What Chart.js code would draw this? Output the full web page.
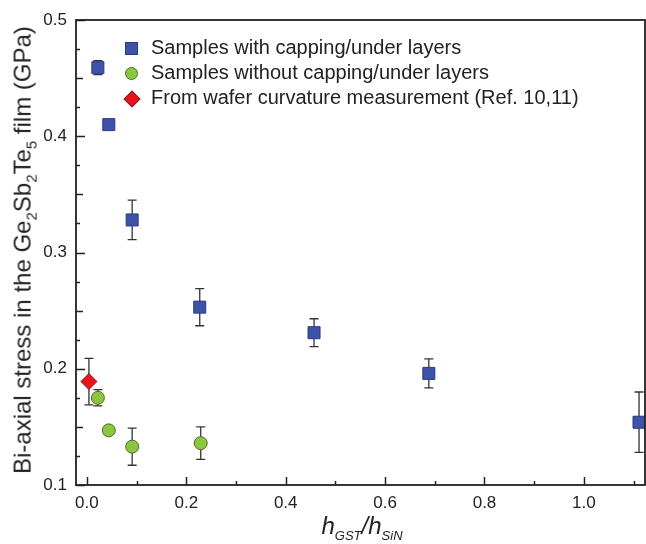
<!DOCTYPE html>
<html>
<head>
<meta charset="utf-8">
<script src="https://cdn.jsdelivr.net/npm/chart.js@4.4.0/dist/chart.umd.min.js"></script>
<style>
  body { margin: 0; background: #fff; }
  #wrap { position: relative; width: 646px; height: 544px; font-family: "Liberation Sans", Arial, sans-serif; color: #222; }
  #ytitle { position: absolute; left: 24px; top: 250px; transform: translate(-50%, -50%) rotate(-90deg); white-space: nowrap; font-size: 24px; }
  #ytitle sub { font-size: 15px; }
  #xtitle { position: absolute; left: 362px; top: 512px; transform: translateX(-50%); white-space: nowrap; font-size: 24px; font-style: italic; }
  #xtitle sub { font-size: 13px; }
  #legend { position: absolute; left: 123px; top: 35px; font-size: 20px; }
  .row { height: 25px; display: flex; align-items: center; }
  .mk { width: 16px; height: 16px; position: relative; margin-right: 12px; }
  .sq { position: absolute; left: 2px; top: 2px; width: 11px; height: 11px; background: #3d52a8; border: 1px solid #2b3b80; }
  .ci { position: absolute; left: 2px; top: 2px; width: 11px; height: 11px; border-radius: 50%; background: #8cc63f; border: 1px solid #4f6b2a; }
  .di { position: absolute; left: 3px; top: 3px; width: 10px; height: 10px; background: #e8141c; border: 1px solid #8a1a1a; transform: rotate(45deg); }
</style>
</head>
<body>
<div id="wrap">
  <canvas id="chart" width="646" height="544"></canvas>
  <div id="ytitle">Bi-axial stress in the Ge<sub>2</sub>Sb<sub>2</sub>Te<sub>5</sub> film (GPa)</div>
  <div id="xtitle">h<sub>GST</sub>/h<sub>SiN</sub></div>
  <div id="legend">
    <div class="row"><div class="mk"><div class="sq"></div></div>Samples with capping/under layers</div>
    <div class="row"><div class="mk"><div class="ci"></div></div>Samples without capping/under layers</div>
    <div class="row"><div class="mk"><div class="di"></div></div>From wafer curvature measurement (Ref. 10,11)</div>
  </div>
</div>
<script>
// samples with capping/under layers
const cappedX = [0.022, 0.044, 0.091, 0.227, 0.457, 0.688, 1.111];
const cappedY = [0.459, 0.410, 0.328, 0.253, 0.231, 0.196, 0.154];
const cappedErr = [0.006, 0.003, 0.017, 0.016, 0.012, 0.0125, 0.026];

// samples without capping/under layers
const bareX = [0.022, 0.044, 0.091, 0.229];
const bareY = [0.175, 0.147, 0.133, 0.136];
const bareErr = [0.007, 0.003, 0.016, 0.014];

// wafer curvature
const waferX = [0.004];
const waferY = [0.189];
const waferErr = [0.02];

const xTicks = [0, 0.1, 0.2, 0.3, 0.4, 0.5, 0.6, 0.7, 0.8, 0.9, 1.0, 1.1];
const xLabels = ['0.0', '', '0.2', '', '0.4', '', '0.6', '', '0.8', '', '1.0', ''];
const yTicks = [0.1, 0.125, 0.15, 0.175, 0.2, 0.225, 0.25, 0.275, 0.3, 0.325, 0.35, 0.375, 0.4, 0.425, 0.45, 0.475, 0.5];
const yLabels = ['0.1', '', '', '', '0.2', '', '', '', '0.3', '', '', '', '0.4', '', '', '', '0.5'];

function pts(xs, ys) {
  return xs.map((x, i) => ({ x: x, y: ys[i] }));
}

const frame = {
  id: 'frame',
  beforeDatasetsDraw(chart) {
    const ctx = chart.ctx;
    const xs = chart.scales.x, ys = chart.scales.y;
    ctx.save();
    ctx.strokeStyle = '#333';
    ctx.lineWidth = 1.3;
    chart.data.datasets.forEach(ds => {
      ds.data.forEach((p, i) => {
        const e = ds.errors[i];
        const px = xs.getPixelForValue(p.x);
        const top = ys.getPixelForValue(p.y + e);
        const bot = ys.getPixelForValue(p.y - e);
        ctx.beginPath();
        ctx.moveTo(px, top); ctx.lineTo(px, bot);
        ctx.moveTo(px - 4.5, top); ctx.lineTo(px + 4.5, top);
        ctx.moveTo(px - 4.5, bot); ctx.lineTo(px + 4.5, bot);
        ctx.stroke();
      });
    });
    ctx.restore();
  },
  afterDraw(chart) {
    const ctx = chart.ctx;
    const a = chart.chartArea;
    const xs = chart.scales.x, ys = chart.scales.y;
    ctx.save();
    ctx.strokeStyle = '#222';
    ctx.lineWidth = 1.8;
    ctx.strokeRect(a.left, a.top, a.right - a.left, a.bottom - a.top);
    ctx.lineWidth = 1.5;
    ctx.beginPath();
    xTicks.forEach((v, i) => {
      const px = Math.round(xs.getPixelForValue(v)) + 0.5;
      const len = xLabels[i] ? 8 : 4;
      ctx.moveTo(px, a.bottom); ctx.lineTo(px, a.bottom - len);
    });
    yTicks.forEach((v, i) => {
      const py = Math.round(ys.getPixelForValue(v)) + 0.5;
      const len = yLabels[i] ? 9 : (i % 2 === 0 ? 7 : 4);
      ctx.moveTo(a.left, py); ctx.lineTo(a.left + len, py);
    });
    ctx.stroke();
    ctx.restore();
  }
};

new Chart(document.getElementById('chart'), {
  type: 'scatter',
  data: {
    datasets: [
      {
        label: 'Samples with capping/under layers',
        data: pts(cappedX, cappedY),
        errors: cappedErr,
        pointStyle: 'rect',
        pointRadius: 8.5,
        backgroundColor: '#3d52a8',
        borderColor: '#2b3b80',
        borderWidth: 1
      },
      {
        label: 'Samples without capping/under layers',
        data: pts(bareX, bareY),
        errors: bareErr,
        pointStyle: 'circle',
        pointRadius: 6.5,
        backgroundColor: '#8cc63f',
        borderColor: '#4f6b2a',
        borderWidth: 1
      },
      {
        label: 'From wafer curvature measurement (Ref. 10,11)',
        data: pts(waferX, waferY),
        errors: waferErr,
        pointStyle: 'rectRot',
        pointRadius: 8,
        backgroundColor: '#e8141c',
        borderColor: '#8a1a1a',
        borderWidth: 1
      }
    ]
  },
  options: {
    responsive: false,
    animation: false,
    layout: { autoPadding: false, padding: { top: 20, right: 1, left: 0, bottom: 0 } },
    plugins: { legend: { display: false }, tooltip: { enabled: false } },
    scales: {
      x: {
        type: 'linear',
        min: -0.022,
        max: 1.123,
        afterBuildTicks: s => { s.ticks = xTicks.map(v => ({ value: v })); },
        afterFit: s => { s.height = 59; },
        grid: { display: false, drawTicks: false },
        border: { display: false },
        ticks: {
          autoSkip: false,
          maxRotation: 0,
          padding: 8,
          color: '#222',
          font: { family: '"Liberation Sans", Arial, sans-serif', size: 17 },
          callback: (v, i) => xLabels[i]
        }
      },
      y: {
        min: 0.1,
        max: 0.5,
        afterBuildTicks: s => { s.ticks = yTicks.map(v => ({ value: v })); },
        afterFit: s => { s.width = 76; },
        grid: { display: false, drawTicks: false },
        border: { display: false },
        ticks: {
          autoSkip: false,
          padding: 9,
          color: '#222',
          font: { family: '"Liberation Sans", Arial, sans-serif', size: 17 },
          callback: (v, i) => yLabels[i]
        }
      }
    }
  },
  plugins: [frame]
});
</script>
</body>
</html>
